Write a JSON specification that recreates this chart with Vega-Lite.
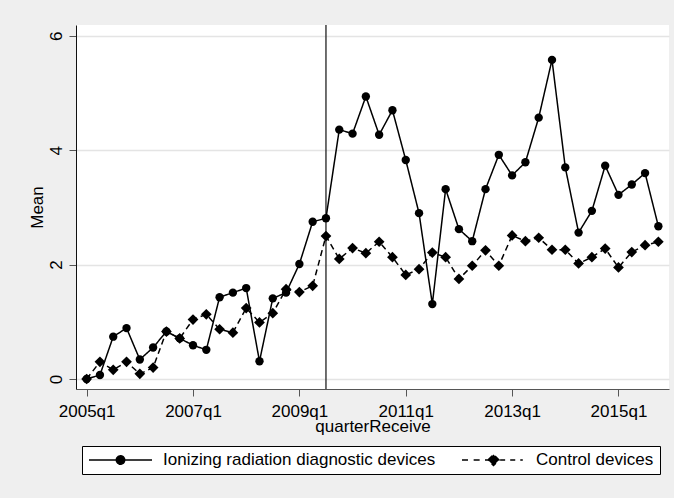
{
  "$schema": "https://vega.github.io/schema/vega-lite/v6.json",
  "width": 593,
  "height": 364,
  "autosize": {"type": "none"},
  "padding": {"left": 76, "top": 25, "right": 5, "bottom": 109},
  "background": "#efefef",
  "config": {
    "font": "Liberation Sans",
    "view": {"fill": "white", "stroke": null}
  },
  "datasets": {
    "series": [
      {"q": 0, "quarter": "2005q1", "series": "Ionizing radiation diagnostic devices", "mean": 0.00},
      {"q": 1, "quarter": "2005q2", "series": "Ionizing radiation diagnostic devices", "mean": 0.07},
      {"q": 2, "quarter": "2005q3", "series": "Ionizing radiation diagnostic devices", "mean": 0.74},
      {"q": 3, "quarter": "2005q4", "series": "Ionizing radiation diagnostic devices", "mean": 0.89},
      {"q": 4, "quarter": "2006q1", "series": "Ionizing radiation diagnostic devices", "mean": 0.34},
      {"q": 5, "quarter": "2006q2", "series": "Ionizing radiation diagnostic devices", "mean": 0.55},
      {"q": 6, "quarter": "2006q3", "series": "Ionizing radiation diagnostic devices", "mean": 0.83},
      {"q": 7, "quarter": "2006q4", "series": "Ionizing radiation diagnostic devices", "mean": 0.71},
      {"q": 8, "quarter": "2007q1", "series": "Ionizing radiation diagnostic devices", "mean": 0.59},
      {"q": 9, "quarter": "2007q2", "series": "Ionizing radiation diagnostic devices", "mean": 0.51},
      {"q": 10, "quarter": "2007q3", "series": "Ionizing radiation diagnostic devices", "mean": 1.43},
      {"q": 11, "quarter": "2007q4", "series": "Ionizing radiation diagnostic devices", "mean": 1.51},
      {"q": 12, "quarter": "2008q1", "series": "Ionizing radiation diagnostic devices", "mean": 1.59},
      {"q": 13, "quarter": "2008q2", "series": "Ionizing radiation diagnostic devices", "mean": 0.31},
      {"q": 14, "quarter": "2008q3", "series": "Ionizing radiation diagnostic devices", "mean": 1.41},
      {"q": 15, "quarter": "2008q4", "series": "Ionizing radiation diagnostic devices", "mean": 1.51},
      {"q": 16, "quarter": "2009q1", "series": "Ionizing radiation diagnostic devices", "mean": 2.01},
      {"q": 17, "quarter": "2009q2", "series": "Ionizing radiation diagnostic devices", "mean": 2.75},
      {"q": 18, "quarter": "2009q3", "series": "Ionizing radiation diagnostic devices", "mean": 2.81},
      {"q": 19, "quarter": "2009q4", "series": "Ionizing radiation diagnostic devices", "mean": 4.36},
      {"q": 20, "quarter": "2010q1", "series": "Ionizing radiation diagnostic devices", "mean": 4.29},
      {"q": 21, "quarter": "2010q2", "series": "Ionizing radiation diagnostic devices", "mean": 4.94},
      {"q": 22, "quarter": "2010q3", "series": "Ionizing radiation diagnostic devices", "mean": 4.27},
      {"q": 23, "quarter": "2010q4", "series": "Ionizing radiation diagnostic devices", "mean": 4.70},
      {"q": 24, "quarter": "2011q1", "series": "Ionizing radiation diagnostic devices", "mean": 3.83},
      {"q": 25, "quarter": "2011q2", "series": "Ionizing radiation diagnostic devices", "mean": 2.90},
      {"q": 26, "quarter": "2011q3", "series": "Ionizing radiation diagnostic devices", "mean": 1.31},
      {"q": 27, "quarter": "2011q4", "series": "Ionizing radiation diagnostic devices", "mean": 3.32},
      {"q": 28, "quarter": "2012q1", "series": "Ionizing radiation diagnostic devices", "mean": 2.62},
      {"q": 29, "quarter": "2012q2", "series": "Ionizing radiation diagnostic devices", "mean": 2.41},
      {"q": 30, "quarter": "2012q3", "series": "Ionizing radiation diagnostic devices", "mean": 3.32},
      {"q": 31, "quarter": "2012q4", "series": "Ionizing radiation diagnostic devices", "mean": 3.92},
      {"q": 32, "quarter": "2013q1", "series": "Ionizing radiation diagnostic devices", "mean": 3.56},
      {"q": 33, "quarter": "2013q2", "series": "Ionizing radiation diagnostic devices", "mean": 3.79},
      {"q": 34, "quarter": "2013q3", "series": "Ionizing radiation diagnostic devices", "mean": 4.57},
      {"q": 35, "quarter": "2013q4", "series": "Ionizing radiation diagnostic devices", "mean": 5.58},
      {"q": 36, "quarter": "2014q1", "series": "Ionizing radiation diagnostic devices", "mean": 3.70},
      {"q": 37, "quarter": "2014q2", "series": "Ionizing radiation diagnostic devices", "mean": 2.56},
      {"q": 38, "quarter": "2014q3", "series": "Ionizing radiation diagnostic devices", "mean": 2.94},
      {"q": 39, "quarter": "2014q4", "series": "Ionizing radiation diagnostic devices", "mean": 3.73},
      {"q": 40, "quarter": "2015q1", "series": "Ionizing radiation diagnostic devices", "mean": 3.22},
      {"q": 41, "quarter": "2015q2", "series": "Ionizing radiation diagnostic devices", "mean": 3.40},
      {"q": 42, "quarter": "2015q3", "series": "Ionizing radiation diagnostic devices", "mean": 3.60},
      {"q": 43, "quarter": "2015q4", "series": "Ionizing radiation diagnostic devices", "mean": 2.67},
      {"q": 0, "quarter": "2005q1", "series": "Control devices", "mean": 0.00},
      {"q": 1, "quarter": "2005q2", "series": "Control devices", "mean": 0.30},
      {"q": 2, "quarter": "2005q3", "series": "Control devices", "mean": 0.16},
      {"q": 3, "quarter": "2005q4", "series": "Control devices", "mean": 0.30},
      {"q": 4, "quarter": "2006q1", "series": "Control devices", "mean": 0.09},
      {"q": 5, "quarter": "2006q2", "series": "Control devices", "mean": 0.20},
      {"q": 6, "quarter": "2006q3", "series": "Control devices", "mean": 0.83},
      {"q": 7, "quarter": "2006q4", "series": "Control devices", "mean": 0.71},
      {"q": 8, "quarter": "2007q1", "series": "Control devices", "mean": 1.04},
      {"q": 9, "quarter": "2007q2", "series": "Control devices", "mean": 1.13},
      {"q": 10, "quarter": "2007q3", "series": "Control devices", "mean": 0.87},
      {"q": 11, "quarter": "2007q4", "series": "Control devices", "mean": 0.81},
      {"q": 12, "quarter": "2008q1", "series": "Control devices", "mean": 1.24},
      {"q": 13, "quarter": "2008q2", "series": "Control devices", "mean": 0.99},
      {"q": 14, "quarter": "2008q3", "series": "Control devices", "mean": 1.15},
      {"q": 15, "quarter": "2008q4", "series": "Control devices", "mean": 1.57},
      {"q": 16, "quarter": "2009q1", "series": "Control devices", "mean": 1.52},
      {"q": 17, "quarter": "2009q2", "series": "Control devices", "mean": 1.63},
      {"q": 18, "quarter": "2009q3", "series": "Control devices", "mean": 2.50},
      {"q": 19, "quarter": "2009q4", "series": "Control devices", "mean": 2.10},
      {"q": 20, "quarter": "2010q1", "series": "Control devices", "mean": 2.29},
      {"q": 21, "quarter": "2010q2", "series": "Control devices", "mean": 2.20},
      {"q": 22, "quarter": "2010q3", "series": "Control devices", "mean": 2.40},
      {"q": 23, "quarter": "2010q4", "series": "Control devices", "mean": 2.13},
      {"q": 24, "quarter": "2011q1", "series": "Control devices", "mean": 1.82},
      {"q": 25, "quarter": "2011q2", "series": "Control devices", "mean": 1.92},
      {"q": 26, "quarter": "2011q3", "series": "Control devices", "mean": 2.21},
      {"q": 27, "quarter": "2011q4", "series": "Control devices", "mean": 2.13},
      {"q": 28, "quarter": "2012q1", "series": "Control devices", "mean": 1.75},
      {"q": 29, "quarter": "2012q2", "series": "Control devices", "mean": 1.98},
      {"q": 30, "quarter": "2012q3", "series": "Control devices", "mean": 2.25},
      {"q": 31, "quarter": "2012q4", "series": "Control devices", "mean": 1.98},
      {"q": 32, "quarter": "2013q1", "series": "Control devices", "mean": 2.51},
      {"q": 33, "quarter": "2013q2", "series": "Control devices", "mean": 2.41},
      {"q": 34, "quarter": "2013q3", "series": "Control devices", "mean": 2.47},
      {"q": 35, "quarter": "2013q4", "series": "Control devices", "mean": 2.26},
      {"q": 36, "quarter": "2014q1", "series": "Control devices", "mean": 2.26},
      {"q": 37, "quarter": "2014q2", "series": "Control devices", "mean": 2.02},
      {"q": 38, "quarter": "2014q3", "series": "Control devices", "mean": 2.13},
      {"q": 39, "quarter": "2014q4", "series": "Control devices", "mean": 2.28},
      {"q": 40, "quarter": "2015q1", "series": "Control devices", "mean": 1.95},
      {"q": 41, "quarter": "2015q2", "series": "Control devices", "mean": 2.22},
      {"q": 42, "quarter": "2015q3", "series": "Control devices", "mean": 2.34},
      {"q": 43, "quarter": "2015q4", "series": "Control devices", "mean": 2.40}
    ],
    "marker": [{"q": 18, "quarter": "2009q3"}]
  },
  "layer": [
    {
      "data": {"name": "marker"},
      "mark": {"type": "rule", "color": "#222222", "strokeWidth": 1.3},
      "encoding": {
        "x": {"field": "q", "type": "quantitative", "scale": {"domain": [-0.8, 43.8], "nice": false, "zero": false}}
      }
    },
    {
      "data": {"name": "series"},
      "mark": {"type": "line", "strokeWidth": 1.5},
      "encoding": {
        "x": {
          "field": "q", "type": "quantitative",
          "scale": {"domain": [-0.8, 43.8], "nice": false, "zero": false},
          "axis": {
            "title": "quarterReceive",
            "values": [0, 8, 16, 24, 32, 40],
            "labelExpr": "(2005 + datum.value / 4) + 'q1'",
            "labelFontSize": 17, "labelColor": "black", "labelFont": "Liberation Sans",
            "labelPadding": 7, "tickSize": 7, "tickColor": "#555555", "tickWidth": 1,
            "domainColor": "#555555", "domainWidth": 1,
            "grid": false,
            "titleFontSize": 17, "titleFontWeight": "normal", "titleColor": "black", "titleFont": "Liberation Sans",
            "titleY": 29.5, "titleBaseline": "top"
          }
        },
        "y": {
          "field": "mean", "type": "quantitative",
          "scale": {"domain": [-0.175, 6.19], "nice": false, "zero": false},
          "axis": {
            "title": "Mean",
            "values": [0, 2, 4, 6],
            "format": "d",
            "labelAngle": -90, "labelAlign": "center", "labelBaseline": "bottom",
            "labelFontSize": 17, "labelColor": "black", "labelFont": "Liberation Sans",
            "labelPadding": 4, "tickSize": 7, "tickColor": "#555555", "tickWidth": 1,
            "domainColor": "#111111", "domainWidth": 1,
            "grid": true, "gridColor": "#e4e4e4", "gridWidth": 1.5,
            "titleFontSize": 17, "titleFontWeight": "normal", "titleColor": "black", "titleFont": "Liberation Sans",
            "titleAngle": -90, "titleX": -33.5, "titleBaseline": "alphabetic", "titleAlign": "center"
          }
        },
        "color": {
          "field": "series", "type": "nominal",
          "scale": {"domain": ["Ionizing radiation diagnostic devices", "Control devices"], "range": ["black", "black"]},
          "legend": {
            "title": null,
            "orient": "none", "legendX": 6, "legendY": 421,
            "direction": "horizontal", "columns": 2,
            "fillColor": "white", "strokeColor": "black", "padding": 6, "cornerRadius": 0,
            "labelFont": "Liberation Sans", "labelFontSize": 17, "labelColor": "black", "labelOffset": 10, "labelLimit": 0,
            "symbolSize": 3969, "symbolStrokeWidth": 1.5, "columnPadding": 25, "clipHeight": 16,
            "encode": {
              "symbols": {
                "update": {
                  "shape": {"signal": "datum.value === 'Control devices' ? 'M-1,0L-0.79,0M-0.63,0L-0.42,0M-0.27,0L-0.1,0M-0.175,0L0,-0.175L0.175,0L0,0.175ZM0.21,0L0.37,0M0.53,0L0.69,0M0.85,0L0.93,0' : 'M-1,0L1,0M-0.133,0A0.133,0.133,0,1,0,0.133,0A0.133,0.133,0,1,0,-0.133,0Z'"},
                  "fill": {"value": "black"},
                  "stroke": {"value": "black"},
                  "strokeWidth": {"value": 1.5},
                  "strokeDash": {"value": [1, 0]},
                  "opacity": {"value": 1}
                }
              }
            }
          }
        },
        "strokeDash": {
          "field": "series", "type": "nominal",
          "scale": {"domain": ["Ionizing radiation diagnostic devices", "Control devices"], "range": [[1, 0], [6, 4]]},
          "legend": null
        }
      }
    },
    {
      "data": {"name": "series"},
      "transform": [{"filter": "datum.series === 'Ionizing radiation diagnostic devices'"}],
      "mark": {"type": "point", "filled": true, "opacity": 1, "color": "black", "shape": "circle", "size": 70},
      "encoding": {
        "x": {"field": "q", "type": "quantitative"},
        "y": {"field": "mean", "type": "quantitative"}
      }
    },
    {
      "data": {"name": "series"},
      "transform": [{"filter": "datum.series === 'Control devices'"}],
      "mark": {"type": "point", "filled": true, "opacity": 1, "color": "black", "shape": "diamond", "size": 115},
      "encoding": {
        "x": {"field": "q", "type": "quantitative"},
        "y": {"field": "mean", "type": "quantitative"}
      }
    }
  ]
}
